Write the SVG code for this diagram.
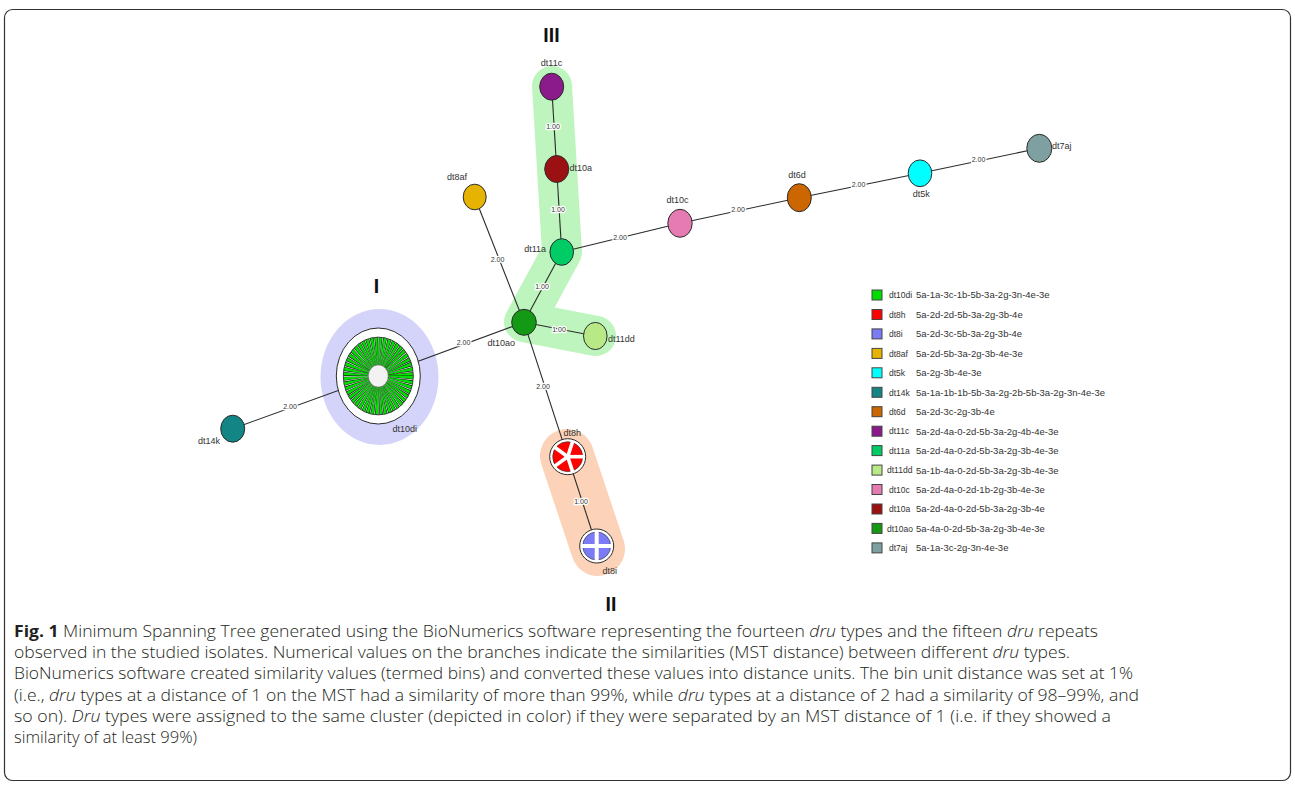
<svg xmlns="http://www.w3.org/2000/svg" width="1295" height="787" viewBox="0 0 1295 787">
<style>
.edge{stroke:#2b2b2b;stroke-width:1.1;fill:none}
.el{font-family:"Liberation Sans",Arial,sans-serif;font-size:7px;fill:#333;text-anchor:middle;stroke:#fff;stroke-width:2.5;paint-order:stroke;stroke-linejoin:round}
.nl{font-family:"Liberation Sans",Arial,sans-serif;font-size:9px;fill:#333}
.node{stroke:#2b2b2b;stroke-width:1}
.roman{font-family:"Liberation Sans",Arial,sans-serif;font-weight:bold;font-size:19.5px;fill:#111;text-anchor:middle}
.lgn{font-family:"Liberation Sans",Arial,sans-serif;font-size:8.5px;fill:#333}
.lgs{font-family:"Liberation Sans",Arial,sans-serif;font-size:9.5px;fill:#333}
.sq{stroke:#444;stroke-width:1}
.cap{font-family:"Open Sans","Liberation Sans",sans-serif;font-size:16px;font-weight:300;fill:#231f20}
</style>
<rect x="4.5" y="9.5" width="1286" height="771" rx="8" fill="#fff" stroke="#333" stroke-width="1.2"/>

<g id="clusters">
  <polyline points="552,86 557,169 562,252 524,322 596,336" fill="none" stroke="#bef5be" stroke-width="40" stroke-linecap="round" stroke-linejoin="round"/>
  <line x1="567" y1="456" x2="598" y2="549" stroke="#fcd3b8" stroke-width="54" stroke-linecap="round"/>
  <ellipse cx="379.5" cy="377" rx="59" ry="68" fill="#d4d4fa"/>
</g>

<g id="cluster-labels">
  <text class="roman" x="551.5" y="42">III</text>
  <text class="roman" x="376.5" y="293">I</text>
  <text class="roman" x="611" y="611">II</text>
</g>

<g id="connectors">
  <line class="edge" x1="551.7" y1="86.7" x2="556.7" y2="169"/>
  <line class="edge" x1="556.7" y1="169" x2="561.7" y2="252"/>
  <line class="edge" x1="561.7" y1="252" x2="524" y2="322.3"/>
  <line class="edge" x1="524" y1="322.3" x2="595.3" y2="336"/>
  <line class="edge" x1="474.7" y1="197" x2="524" y2="322.3"/>
  <line class="edge" x1="561.7" y1="252" x2="680" y2="223.3"/>
  <line class="edge" x1="680" y1="223.3" x2="799.3" y2="197.7"/>
  <line class="edge" x1="799.3" y1="197.7" x2="920" y2="173.3"/>
  <line class="edge" x1="920" y1="173.3" x2="1039.3" y2="148.3"/>
  <line class="edge" x1="524" y1="322.3" x2="378.3" y2="376"/>
  <line class="edge" x1="378.3" y1="376" x2="232.7" y2="428.7"/>
  <line class="edge" x1="524" y1="322.3" x2="567.7" y2="456.7"/>
  <line class="edge" x1="567.7" y1="456.7" x2="596.7" y2="546"/>
  <text class="el" x="553" y="128.5">1.00</text>
  <text class="el" x="558" y="211.5">1.00</text>
  <text class="el" x="542" y="289">1.00</text>
  <text class="el" x="559" y="331.5">1.00</text>
  <text class="el" x="497.5" y="261.5">2.00</text>
  <text class="el" x="620" y="239.5">2.00</text>
  <text class="el" x="738" y="211.5">2.00</text>
  <text class="el" x="858.5" y="186.5">2.00</text>
  <text class="el" x="978.5" y="161.5">2.00</text>
  <text class="el" x="463.5" y="345">2.00</text>
  <text class="el" x="290" y="408.5">2.00</text>
  <text class="el" x="543" y="388.5">2.00</text>
  <text class="el" x="581" y="504">1.00</text>
</g>

<g id="dt11c"><ellipse class="node" cx="551.7" cy="86.7" rx="12" ry="13.5" fill="#8b1a8b"/><text class="nl" x="551.5" y="66" text-anchor="middle">dt11c</text></g>
<g id="dt10a"><ellipse class="node" cx="556.7" cy="169" rx="12" ry="13.5" fill="#9b1111"/><text class="nl" x="569.5" y="170.5">dt10a</text></g>
<g id="dt8af"><ellipse class="node" cx="474.7" cy="197" rx="11.5" ry="12.8" fill="#e6b400"/><text class="nl" x="457" y="180" text-anchor="middle">dt8af</text></g>
<g id="dt11a"><ellipse class="node" cx="561.7" cy="252" rx="11.8" ry="13.3" fill="#00cc66"/><text class="nl" x="546" y="251.5" text-anchor="end">dt11a</text></g>
<g id="dt10ao"><ellipse class="node" cx="524" cy="322.3" rx="12.3" ry="13" fill="#149914"/><text class="nl" x="515" y="346" text-anchor="end">dt10ao</text></g>
<g id="dt11dd"><ellipse class="node" cx="595.3" cy="336" rx="11.8" ry="13.6" fill="#b8e986"/><text class="nl" x="608" y="341.5">dt11dd</text></g>
<g id="dt10c"><ellipse class="node" cx="680" cy="223.3" rx="12.2" ry="14" fill="#e67ab2"/><text class="nl" x="677.5" y="203" text-anchor="middle">dt10c</text></g>
<g id="dt6d"><ellipse class="node" cx="799.3" cy="197.7" rx="12" ry="14" fill="#cc6600"/><text class="nl" x="797" y="178" text-anchor="middle">dt6d</text></g>
<g id="dt5k"><ellipse class="node" cx="920" cy="173.3" rx="11.8" ry="13.4" fill="#00ffff"/><text class="nl" x="921.3" y="196.5" text-anchor="middle">dt5k</text></g>
<g id="dt7aj"><ellipse class="node" cx="1039.3" cy="148.3" rx="12.5" ry="14" fill="#7fa0a0"/><text class="nl" x="1052" y="149">dt7aj</text></g>
<g id="dt14k"><ellipse class="node" cx="232.7" cy="428.7" rx="12" ry="13.5" fill="#138585"/><text class="nl" x="220" y="444" text-anchor="end">dt14k</text></g>

<g id="dt10di">
  <ellipse class="node" cx="378.3" cy="376" rx="42" ry="48" fill="#fff"/>
  <g transform="translate(378.3,376) scale(1,1.11)">
    <circle r="22.5" fill="none" stroke="#111" stroke-width="25"/>
    <circle r="22.5" fill="none" stroke="#00e000" stroke-width="25" stroke-dasharray="1.75 1.195"/>
    <circle r="22.5" fill="none" stroke="#fff" stroke-width="25" stroke-dasharray="0.45 2.495" stroke-dashoffset="-2.1"/>
    <circle r="35" fill="none" stroke="#333" stroke-width="0.8"/>
    <circle r="10" fill="#f2f2f2" stroke="#666" stroke-width="0.6"/>
  </g>
  <text class="nl" x="392.5" y="431.5">dt10di</text>
</g>

<g id="dt8h">
  <circle class="node" cx="567.7" cy="456.7" r="18" fill="#fff"/>
  <g transform="translate(567.7,456.7)">
    <circle r="15" fill="#ff0000" stroke="#333" stroke-width="0.6"/>
    <g stroke="#fff" stroke-width="3.6" stroke-linecap="butt">
      <line x1="0" y1="0" x2="16" y2="0"/>
      <line x1="0" y1="0" x2="4.94" y2="15.22"/>
      <line x1="0" y1="0" x2="-12.94" y2="9.4"/>
      <line x1="0" y1="0" x2="-12.94" y2="-9.4"/>
      <line x1="0" y1="0" x2="4.94" y2="-15.22"/>
    </g>
    <circle r="3" fill="#fff"/>
  </g>
  <text class="nl" x="563.5" y="435.5">dt8h</text>
</g>

<g id="dt8i">
  <circle class="node" cx="596.7" cy="546" r="17" fill="#fff"/>
  <g transform="translate(596.7,546)">
    <circle r="14" fill="#7b7bf5" stroke="#333" stroke-width="0.6"/>
    <rect x="-15" y="-2" width="30" height="4" fill="#fff"/>
    <rect x="-2" y="-15" width="4" height="30" fill="#fff"/>
  </g>
  <text class="nl" x="602.5" y="574">dt8i</text>
</g>

<g id="legend">
  <rect class="sq" x="872" y="290" width="10" height="10" fill="#00dd00"/><text class="lgn" x="889" y="298.2">dt10di</text><text class="lgs" x="916" y="298.4">5a-1a-3c-1b-5b-3a-2g-3n-4e-3e</text>
  <rect class="sq" x="872" y="309.5" width="10" height="10" fill="#ff0000"/><text class="lgn" x="889" y="317.7">dt8h</text><text class="lgs" x="916" y="317.9">5a-2d-2d-5b-3a-2g-3b-4e</text>
  <rect class="sq" x="872" y="328.9" width="10" height="10" fill="#7b7bf5"/><text class="lgn" x="889" y="337.1">dt8i</text><text class="lgs" x="916" y="337.3">5a-2d-3c-5b-3a-2g-3b-4e</text>
  <rect class="sq" x="872" y="348.4" width="10" height="10" fill="#e6b400"/><text class="lgn" x="889" y="356.6">dt8af</text><text class="lgs" x="916" y="356.8">5a-2d-5b-3a-2g-3b-4e-3e</text>
  <rect class="sq" x="872" y="367.8" width="10" height="10" fill="#00ffff"/><text class="lgn" x="889" y="376">dt5k</text><text class="lgs" x="916" y="376.2">5a-2g-3b-4e-3e</text>
  <rect class="sq" x="872" y="387.3" width="10" height="10" fill="#138585"/><text class="lgn" x="889" y="395.5">dt14k</text><text class="lgs" x="916" y="395.7">5a-1a-1b-1b-5b-3a-2g-2b-5b-3a-2g-3n-4e-3e</text>
  <rect class="sq" x="872" y="406.7" width="10" height="10" fill="#cc6600"/><text class="lgn" x="889" y="414.9">dt6d</text><text class="lgs" x="916" y="415.1">5a-2d-3c-2g-3b-4e</text>
  <rect class="sq" x="872" y="426.2" width="10" height="10" fill="#8b1a8b"/><text class="lgn" x="889" y="434.4">dt11c</text><text class="lgs" x="916" y="434.6">5a-2d-4a-0-2d-5b-3a-2g-4b-4e-3e</text>
  <rect class="sq" x="872" y="445.6" width="10" height="10" fill="#00cc66"/><text class="lgn" x="889" y="453.8">dt11a</text><text class="lgs" x="916" y="454">5a-2d-4a-0-2d-5b-3a-2g-3b-4e-3e</text>
  <rect class="sq" x="872" y="465.1" width="10" height="10" fill="#b8e986"/><text class="lgn" x="887" y="473.3">dt11dd</text><text class="lgs" x="916" y="473.5">5a-1b-4a-0-2d-5b-3a-2g-3b-4e-3e</text>
  <rect class="sq" x="872" y="484.5" width="10" height="10" fill="#e67ab2"/><text class="lgn" x="889" y="492.7">dt10c</text><text class="lgs" x="916" y="492.9">5a-2d-4a-0-2d-1b-2g-3b-4e-3e</text>
  <rect class="sq" x="872" y="504" width="10" height="10" fill="#9b1111"/><text class="lgn" x="889" y="512.2">dt10a</text><text class="lgs" x="916" y="512.4">5a-2d-4a-0-2d-5b-3a-2g-3b-4e</text>
  <rect class="sq" x="872" y="523.4" width="10" height="10" fill="#149914"/><text class="lgn" x="887" y="531.6">dt10ao</text><text class="lgs" x="916" y="531.8">5a-4a-0-2d-5b-3a-2g-3b-4e-3e</text>
  <rect class="sq" x="872" y="542.9" width="10" height="10" fill="#7fa0a0"/><text class="lgn" x="889" y="551.1">dt7aj</text><text class="lgs" x="916" y="551.3">5a-1a-3c-2g-3n-4e-3e</text>
</g>

<g id="caption">
  <text class="cap" x="14" y="637" textLength="1084" lengthAdjust="spacingAndGlyphs"><tspan font-weight="bold">Fig. 1</tspan> Minimum Spanning Tree generated using the BioNumerics software representing the fourteen <tspan font-style="italic">dru</tspan> types and the fifteen <tspan font-style="italic">dru</tspan> repeats</text>
  <text class="cap" x="14" y="658.2" textLength="1056" lengthAdjust="spacingAndGlyphs">observed in the studied isolates. Numerical values on the branches indicate the similarities (MST distance) between different <tspan font-style="italic">dru</tspan> types.</text>
  <text class="cap" x="14" y="679.4" textLength="1119" lengthAdjust="spacingAndGlyphs">BioNumerics software created similarity values (termed bins) and converted these values into distance units. The bin unit distance was set at 1%</text>
  <text class="cap" x="14" y="700.6" textLength="1125" lengthAdjust="spacingAndGlyphs">(i.e., <tspan font-style="italic">dru</tspan> types at a distance of 1 on the MST had a similarity of more than 99%, while <tspan font-style="italic">dru</tspan> types at a distance of 2 had a similarity of 98–99%, and</text>
  <text class="cap" x="14" y="721.8" textLength="1097" lengthAdjust="spacingAndGlyphs">so on). <tspan font-style="italic">Dru</tspan> types were assigned to the same cluster (depicted in color) if they were separated by an MST distance of 1 (i.e. if they showed a</text>
  <text class="cap" x="14" y="743" textLength="183" lengthAdjust="spacingAndGlyphs">similarity of at least 99%)</text>
</g>
</svg>
